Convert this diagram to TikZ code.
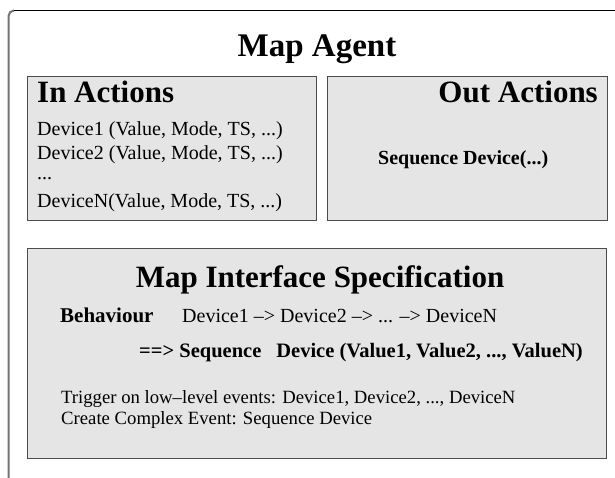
\documentclass[tikz,border=0pt]{standalone}
\usepackage{fontspec}
\setmainfont{Liberation Serif}
\begin{document}
\begin{tikzpicture}[x=1pt,y=-1pt,
  box/.style={draw=black!70, line width=1.2pt, fill=black!10, inner sep=0pt, anchor=north west},
  txt/.style={inner sep=0pt, anchor=base west},
  bigtitle/.style={inner sep=0pt, anchor=base, font=\fontsize{33}{36}\selectfont\bfseries},
  head/.style={inner sep=0pt, font=\fontsize{31}{34}\selectfont\bfseries},
  body/.style={txt, font=\fontsize{20}{22}\selectfont},
  bbody/.style={txt, font=\fontsize{20}{22}\selectfont\bfseries},
  small/.style={txt, font=\fontsize{18.7}{20}\selectfont}]
\useasboundingbox (0,0) rectangle (615,478);
% outer frame
\draw[black!55, line width=2pt] (8.5,478) -- (8.5,16) arc[start angle=180,end angle=270,radius=5.5];
\draw[black, line width=1.1pt] (13.5,10.5) -- (615,10.5);
\node[bigtitle] (agent) at (317,57) {Map Agent};
% In actions
\node[box, minimum width=289pt, minimum height=144pt] (inbox) at (27,76) {};
\node[head, anchor=base west] (inhead) at (37,103) {In Actions};
\node[body] (d1) at (37,136) {Device1 (Value, Mode, TS, ...)};
\node[body] (d2) at (37,160) {Device2 (Value, Mode, TS, ...)};
\node[body] (dd) at (37,180) {...};
\node[body] (dn) at (37,208) {DeviceN(Value, Mode, TS, ...)};
% Out actions
\node[box, minimum width=280pt, minimum height=144pt] (outbox) at (327,76) {};
\node[head, anchor=base east] (outhead) at (598,103) {Out Actions};
\node[bbody] (seqdev) at (378,165) {Sequence Device(...)};
% Map interface specification
\node[box, minimum width=579pt, minimum height=210pt] (specbox) at (27,248) {};
\node[head, anchor=base] (spechead) at (320,287) {Map Interface Specification};
\node[bbody, font=\fontsize{21}{23}\selectfont\bfseries] (behav) at (60,322) {Behaviour};
\node[body] (chain) at (182,322) {Device1 –> Device2 –> ... –> DeviceN};
\node[bbody, font=\fontsize{20.5}{22}\selectfont\bfseries] (result) at (139,357) {==> Sequence\hspace{15pt}Device (Value1, Value2, ..., ValueN)};
\node[small] (trig) at (61,403) {Trigger on low–level events: Device1, Device2, ..., DeviceN};
\node[small] (create) at (61,424) {Create Complex Event: Sequence Device};
\end{tikzpicture}
\end{document}
